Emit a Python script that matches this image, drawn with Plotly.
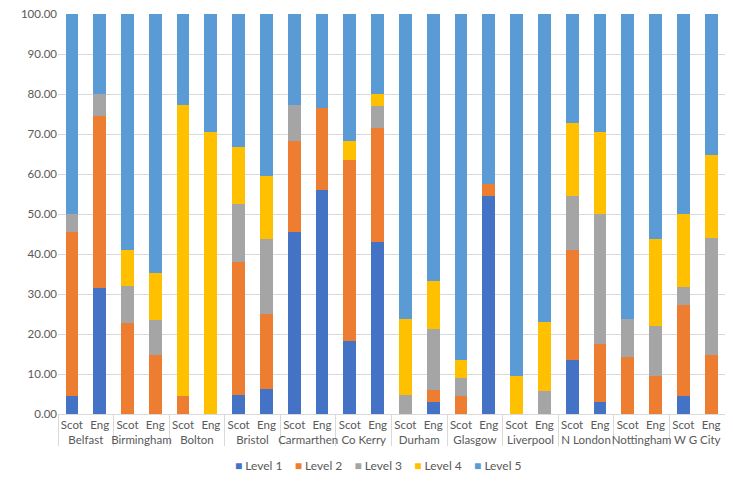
import plotly.graph_objects as go

cities = ["Belfast", "Birmingham", "Bolton", "Bristol", "Carmarthen", "Co Kerry",
          "Durham", "Glasgow", "Liverpool", "N London", "Nottingham", "W G City"]
groups = ["Scot", "Eng"]

level1 = [4.5, 31.5, 0, 0, 0, 0, 4.8, 6.2, 45.5, 56.0, 18.2, 42.9,
          0, 3.0, 0, 54.5, 0, 0, 13.6, 2.9, 0, 0, 4.5, 0]
level2 = [41.0, 43.0, 22.8, 14.7, 4.5, 0, 33.3, 18.8, 22.7, 20.5, 45.4, 28.5,
          0, 3.0, 4.5, 3.1, 0, 0, 27.3, 14.7, 14.3, 9.4, 22.8, 14.7]
level3 = [4.5, 5.5, 9.2, 8.8, 0, 0, 14.3, 18.8, 9.1, 0, 0, 5.7,
          4.8, 15.2, 4.6, 0, 0, 5.7, 13.6, 32.4, 9.5, 12.5, 4.5, 29.4]
level4 = [0, 0, 9.0, 11.8, 72.8, 70.6, 14.3, 15.6, 0, 0, 4.6, 2.9,
          19.0, 12.1, 4.5, 0, 9.5, 17.2, 18.2, 20.6, 0, 21.9, 18.2, 20.6]

level5 = [round(100 - a - b - c - d, 2) for a, b, c, d in zip(level1, level2, level3, level4)]

x_outer = [c for c in cities for _ in groups]
x_inner = groups * len(cities)

series = [("Level 1", level1, "#4472C4"), ("Level 2", level2, "#ED7D31"),
          ("Level 3", level3, "#A5A5A5"), ("Level 4", level4, "#FFC000"),
          ("Level 5", level5, "#5B9BD5")]

fig = go.Figure()
for name, vals, col in series:
    fig.add_trace(go.Bar(x=[x_outer, x_inner], y=vals, name=name, showlegend=False,
                         marker=dict(color=col, line=dict(width=0))))

# compact Excel-style legend
legend_text = "&nbsp;&nbsp;&nbsp;&nbsp;".join(
    f"<span style='color:{col}'>■</span> {name}" for name, _, col in series)
fig.add_annotation(text=legend_text, xref="paper", yref="paper", x=0.48, y=-0.13,
                   xanchor="center", yanchor="middle", showarrow=False,
                   font=dict(family="Lato, sans-serif", size=12, color="#595959"))

fig.update_layout(
    barmode="stack",
    bargap=0.54,
    width=717, height=472,
    margin=dict(l=50, r=0, t=6, b=66, autoexpand=False),
    plot_bgcolor="white", paper_bgcolor="white",
    font=dict(family="Lato, sans-serif", size=12, color="#595959"),
    yaxis=dict(range=[0, 100], dtick=10, tickformat=".2f", showgrid=True,
               gridcolor="#D9D9D9", gridwidth=1, zeroline=False, showline=False,
               ticks="", tickfont=dict(size=11.5), automargin=False,
               ticklabeloverflow="allow"),
    xaxis=dict(type="multicategory", showline=True, linecolor="#D9D9D9",
               showdividers=True, dividercolor="#D9D9D9", dividerwidth=1,
               tickangle=0, automargin=False,
               tickfont=dict(size=11.5)),
)

fig.write_html("out.html")
